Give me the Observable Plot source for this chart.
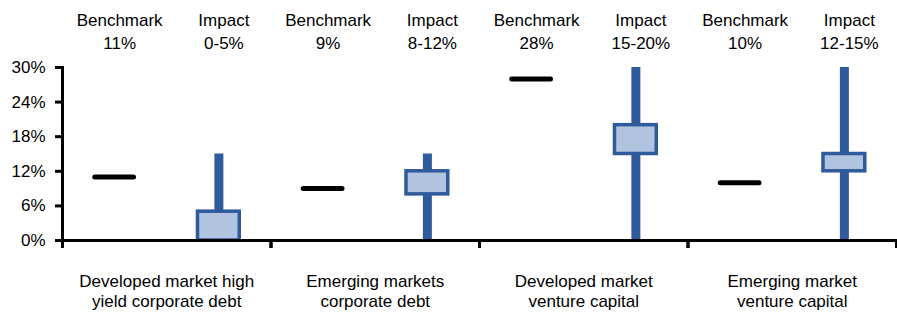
<!DOCTYPE html>
<html>
<head>
<meta charset="utf-8">
<script src="https://cdn.jsdelivr.net/npm/d3@7"></script>
<script src="https://cdn.jsdelivr.net/npm/@observablehq/plot@0.6"></script>
<style>
  html, body { margin: 0; padding: 0; background: white; }
</style>
</head>
<body>
<div id="chart"></div>
<script>
// ---- Data ----
const groups = [
  "Developed market high\nyield corporate debt",
  "Emerging markets\ncorporate debt",
  "Developed market\nventure capital",
  "Emerging market\nventure capital"
];
const types = ["Benchmark", "Impact"];
const benchmark = [11, 9, 28, 10];
const benchmarkLabels = ["11%", "9%", "28%", "10%"];
const impactLow = [0, 8, 15, 12];
const impactHigh = [5, 12, 20, 15];
const whiskerLow = [0, 0, 0, 0];
const whiskerHigh = [15, 15, 30, 30];
const impactLabels = ["0-5%", "8-12%", "15-20%", "12-15%"];
const yTicks = [0, 6, 12, 18, 24, 30];

// ---- Tables ----
const benchRows = groups.map((g, i) => ({group: g, type: "Benchmark", value: benchmark[i], label: benchmarkLabels[i]}));
const impactRows = groups.map((g, i) => ({group: g, type: "Impact", lo: impactLow[i], hi: impactHigh[i], wlo: whiskerLow[i], whi: whiskerHigh[i], label: impactLabels[i]}));
const topRows = [...benchRows, ...impactRows];
const groupRows = groups.map(g => ({group: g}));

const FONT = "'Liberation Sans Narrow', 'Arial Narrow', 'Liberation Sans', Arial, sans-serif";
const FS = 17;
const BLUE = "#2F5A9C";
const FILL = "#B0C3DF";

const chart = Plot.plot({
  width: 897,
  height: 312,
  marginLeft: 62,
  marginRight: 1,
  marginTop: 67,
  marginBottom: 72,
  style: {fontFamily: FONT, fontSize: FS + "px", color: "black", background: "white", overflow: "visible"},
  fx: {domain: groups, padding: 0, round: false, axis: null, label: null},
  x: {domain: types, paddingInner: 0.58, paddingOuter: 0.29, round: false, axis: null, label: null},
  y: {domain: [0, 30], axis: null, label: null},
  marks: [
    // y axis
    Plot.axisY(yTicks, {
      tickFormat: d => d + "%",
      tickSize: 7,
      tickPadding: 10,
      strokeWidth: 3,
      fontSize: FS,
      fontFamily: FONT,
      fill: "black",
      label: null
    }),
    Plot.frame({anchor: "left", facetAnchor: "left", stroke: "black", strokeWidth: 3, insetBottom: -6}),
    // group dividers
    Plot.frame({anchor: "left", stroke: "black", strokeWidth: 3, insetTop: 173, insetBottom: -6}),
    Plot.frame({anchor: "right", stroke: "black", strokeWidth: 3, insetTop: 173, insetBottom: -6}),
    // impact whiskers
    Plot.ruleX(impactRows, {fx: "group", x: "type", y1: "wlo", y2: "whi", stroke: BLUE, strokeWidth: 9}),
    // impact boxes
    Plot.barY(impactRows, {fx: "group", x: "type", y1: "lo", y2: "hi", fill: FILL, stroke: BLUE, strokeWidth: 3.5, insetLeft: 1, insetRight: 1}),
    // benchmark dashes
    Plot.tickY(benchRows, {fx: "group", x: "type", y: "value", stroke: "black", strokeWidth: 5, strokeLinecap: "round", insetLeft: 2.5, insetRight: 2.5}),
    // x baseline
    Plot.ruleY([0], {stroke: "black", strokeWidth: 3}),
    // top labels
    Plot.text(topRows, {
      fx: "group", x: "type", frameAnchor: "top",
      text: d => d.type + "\n" + d.label,
      lineAnchor: "bottom", lineHeight: 1.3, dy: -19, dx: 5,
      fontSize: FS, fontFamily: FONT, fill: "black"
    }),
    // bottom group labels
    Plot.text(groupRows, {
      fx: "group", frameAnchor: "bottom",
      text: "group",
      lineAnchor: "top", lineHeight: 1.18, dy: 32,
      fontSize: FS, fontFamily: FONT, fill: "black"
    })
  ]
});
document.getElementById("chart").appendChild(chart);
</script>
</body>
</html>
